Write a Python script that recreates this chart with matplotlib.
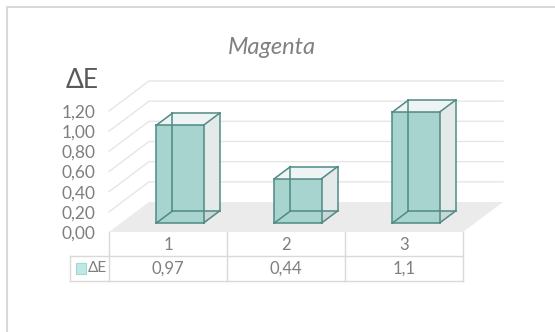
import matplotlib.pyplot as plt
from matplotlib.patches import Polygon, Rectangle
from matplotlib.lines import Line2D
from matplotlib.transforms import IdentityTransform

# ---- data ----
categories = ["1", "2", "3"]
delta_e = [0.97, 0.44, 1.1]
y_ticks = [0.0, 0.2, 0.4, 0.6, 0.8, 1.0, 1.2]
series_name = "ΔE"
title = "Magenta"

plt.rcParams['font.family'] = ['Lato', 'DejaVu Sans']

W, H = 555, 332
fig = plt.figure(figsize=(W / 100, H / 100), dpi=100)
ax = fig.add_axes([109 / W, (H - 232) / H, 354 / W, 121 / H])
ax.set_xlim(-0.5, len(categories) - 0.5)
ax.set_ylim(0, 1.2)
ax.patch.set_visible(False)
for s in ax.spines.values():
    s.set_visible(False)
ax.set_xticks([])
ax.set_yticks(y_ticks)
ax.set_yticklabels([f"{t:.2f}".replace(".", ",") for t in y_ticks],
                   color="#7f7f7f", fontsize=12.5)
ax.tick_params(axis="y", length=0, pad=10)

IDT = IdentityTransform()
DX, DY = 40, 30  # oblique depth offset (pixels)


def proj(x, v, d):
    px, py = ax.transData.transform((x, v))
    return (px + DX * d, py + DY * d)


def line(pts, **kw):
    xs, ys = zip(*pts)
    ax.add_artist(Line2D(xs, ys, transform=IDT, clip_on=False, **kw))


def poly(pts, **kw):
    ax.add_artist(Polygon(pts, closed=True, transform=IDT, clip_on=False, **kw))


def pix(px, py):
    return (px, H - py)


x_lo, x_hi = -0.5, len(categories) - 0.5

# floor
poly([proj(x_lo, 0, 0), proj(x_hi, 0, 0), proj(x_hi, 0, 1), proj(x_lo, 0, 1)],
     fc="#ebebeb", ec="none", zorder=1)

# gridlines on side + back wall
for v in y_ticks[1:]:
    line([proj(x_lo, v, 0), proj(x_lo, v, 1), proj(x_hi, v, 1)],
         color="#e6e6e6", lw=1.0, zorder=1)

# 3D bars
edge = "#4f8a83"
for i, v in enumerate(delta_e):
    x0, x1 = i - 0.2, i + 0.2
    d0, d1 = 0.3, 0.7
    fbl, fbr, ftr, ftl = proj(x0, 0, d0), proj(x1, 0, d0), proj(x1, v, d0), proj(x0, v, d0)
    bbl, bbr, btr, btl = proj(x0, 0, d1), proj(x1, 0, d1), proj(x1, v, d1), proj(x0, v, d1)
    poly([fbr, bbr, btr, ftr], fc="#e4eaea", ec="none", zorder=3)
    poly([fbl, fbr, bbr, bbl], fc="#9fb3b1", alpha=0.35, ec="none", zorder=3)
    poly([ftl, ftr, btr, btl], fc="#eef3f3", ec="none", zorder=3)
    poly([fbl, fbr, ftr, ftl], fc="#a8d4cf", ec="none", zorder=4)
    for a, b in [(fbl, fbr), (fbr, ftr), (ftr, ftl), (ftl, fbl),
                 (bbl, bbr), (bbr, btr), (btr, btl), (btl, bbl),
                 (fbl, bbl), (fbr, bbr), (ftr, btr), (ftl, btl)]:
        line([a, b], color=edge, lw=1.1, zorder=5)

# data table
tc = "#d9d9d9"
for k in range(len(categories) + 1):
    xb = ax.transData.transform((x_lo + k, 0))[0]
    line([(xb, H - 232), (xb, H - 281)], color=tc, lw=1.0, zorder=2)
xr = ax.transData.transform((x_hi, 0))[0]
line([pix(70, 256), (xr, H - 256)], color=tc, lw=1.0, zorder=2)
line([pix(70, 281), (xr, H - 281)], color=tc, lw=1.0, zorder=2)
line([pix(70, 256), pix(70, 281)], color=tc, lw=1.0, zorder=2)

for i, (c, v) in enumerate(zip(categories, delta_e)):
    xc = ax.transData.transform((i, 0))[0]
    ax.text(xc, H - 245, c, transform=IDT, ha="center", va="center",
            color="#7f7f7f", fontsize=12)
    ax.text(xc, H - 268.5, f"{v:g}".replace(".", ","), transform=IDT,
            ha="center", va="center", color="#7f7f7f", fontsize=12)

# legend key in table
ax.add_artist(Rectangle((76, H - 274), 10, 11, transform=IDT, clip_on=False,
                        fc="#bdeae6", ec="#a5d6d1", lw=0.8))
ax.text(88, H - 268.5, series_name, transform=IDT, ha="left", va="center",
        color="#7f7f7f", fontsize=11)

# axis title and chart title
fig.text(66 / W, (H - 80) / H, "ΔE", ha="left", va="center",
         color="#595959", fontsize=19)
fig.text(272 / W, (H - 47) / H, title, ha="center", va="center",
         style="italic", color="#808080", fontsize=17)

# chart border (left and top visible)
fig.add_artist(Line2D([7, 7, W], [0, H - 7, H - 7], transform=IDT,
                      color="#d9d9d9", lw=1.5))

fig.savefig("out.png", dpi=100)
